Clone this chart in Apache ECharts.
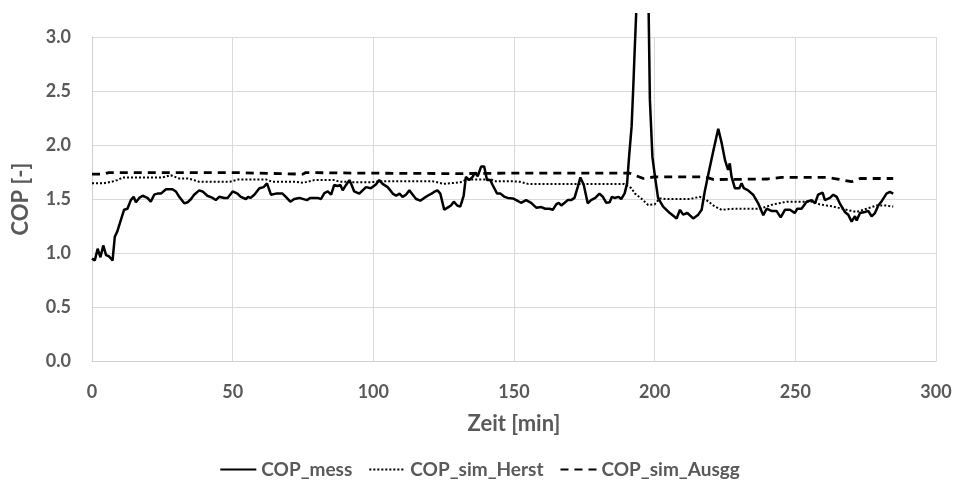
<!DOCTYPE html>
<html>
<head>
<meta charset="utf-8">
<script src="https://cdn.jsdelivr.net/npm/echarts@6/dist/echarts.min.js"></script>
<style>
	html, body { margin: 0; padding: 0; background: #fff; }
	/* chart starts 13px down so the big spike gets cut there like in the original */
	#main { position: absolute; left: 0; top: 13px; width: 959px; height: 479px; }
</style>
</head>
<body>
<div id="main"></div>
<script>
var xTicks = [0, 50, 100, 150, 200, 250, 300];
var yTicks = [0, 0.5, 1.0, 1.5, 2.0, 2.5, 3.0];

// COP_mess
var messTime = [0, 1, 2, 3, 4, 5, 6, 7.3, 8.1, 9, 10.3, 11.4, 12.6, 13.8, 14.8, 15.6, 16.8, 18, 19.7, 20.9,
	22.1, 23.3, 24.5, 26.3, 28.6, 29.8, 31, 32.8, 34, 35.2, 36.3, 38.1, 39.3, 41, 42.9, 44, 45.2, 47, 48.2, 50,
	51.7, 52.9, 54.7, 55.5, 56.3, 57.7, 59.5, 61, 62.2, 63.6, 65.4, 67.7, 68.9, 70.5, 71.9, 73.7, 76.4, 77.6, 80.2, 81.4,
	82.6, 83.8, 85, 86.1, 87.3, 88.3, 89.1, 90.3, 91.5, 92.3, 93.2, 95, 96.2, 97.4, 99.1, 100.9, 102.1, 103.3, 105.1, 106.9,
	108.1, 109.3, 110.4, 111.6, 112.8, 114, 115.2, 116.7, 118.1, 119.3, 120.7, 121.6, 122.8, 123.8, 125.2, 126.4, 127.6, 128.6, 129.8, 130.9,
	132.1, 132.9, 134.1, 135.3, 136.1, 137.1, 138.3, 139.4, 140.4, 141.6, 142.4, 144, 145.2, 146.6, 147.8, 149.6, 150.8, 152.5, 154.3, 156.1,
	157.9, 159.7, 161.1, 162.6, 163.8, 165, 165.9, 166.8, 168, 169.1, 170.3, 171.5, 172.7, 173.6, 174.8, 176.2, 177.4, 178.9, 180.4, 181.6,
	182.8, 184, 184.8, 185.7, 187.2, 188.1, 189.3, 190.2, 190.9, 191.8, 192.4, 192.9, 194.5, 196, 197.5, 198.3, 199.2, 200.1, 201.2, 203,
	205.4, 207.8, 209, 210.1, 211.6, 213.7, 215.5, 216.7, 217.8, 219, 220.8, 222.6, 223.8, 225, 226.1, 226.7, 227.3, 228.5, 230.1, 230.9,
	231.7, 233.2, 235, 236.8, 238.6, 239.8, 241.5, 243.3, 244.8, 246.3, 248.1, 249.8, 250.7, 252.2, 254, 255.8, 257, 258.1, 259.7, 260.5,
	262.3, 263.5, 264.7, 265.8, 267.6, 268.8, 270, 271.2, 271.8, 273, 274.7, 275.9, 277.1, 278.3, 279.5, 280.7, 282.4, 283.6, 284.8];
var messCop = [0.95, 0.93, 1.04, 0.96, 1.07, 0.98, 0.97, 0.93, 1.15, 1.2, 1.31, 1.40, 1.41, 1.49, 1.52, 1.47, 1.51, 1.53, 1.51, 1.475,
	1.54, 1.55, 1.55, 1.59, 1.59, 1.57, 1.52, 1.46, 1.47, 1.50, 1.54, 1.58, 1.57, 1.53, 1.51, 1.49, 1.52, 1.51, 1.51, 1.57,
	1.55, 1.52, 1.50, 1.52, 1.51, 1.54, 1.60, 1.61, 1.645, 1.54, 1.55, 1.55, 1.52, 1.475, 1.50, 1.51, 1.49, 1.51, 1.51, 1.50,
	1.555, 1.57, 1.54, 1.63, 1.62, 1.63, 1.58, 1.63, 1.675, 1.63, 1.57, 1.55, 1.58, 1.61, 1.60, 1.635, 1.675, 1.64, 1.61, 1.55,
	1.53, 1.55, 1.52, 1.54, 1.58, 1.54, 1.50, 1.485, 1.51, 1.53, 1.55, 1.565, 1.58, 1.55, 1.40, 1.42, 1.44, 1.475, 1.44, 1.43,
	1.53, 1.705, 1.675, 1.705, 1.745, 1.71, 1.80, 1.80, 1.675, 1.675, 1.63, 1.55, 1.55, 1.52, 1.51, 1.505, 1.49, 1.465, 1.49, 1.465,
	1.42, 1.425, 1.41, 1.41, 1.40, 1.45, 1.465, 1.44, 1.465, 1.49, 1.49, 1.51, 1.615, 1.70, 1.63, 1.46, 1.49, 1.51, 1.55, 1.52,
	1.465, 1.47, 1.52, 1.51, 1.52, 1.50, 1.55, 1.645, 1.89, 2.17, 2.54, 2.88, 3.9, 4.3, 3.9, 2.42, 1.89, 1.71, 1.51, 1.43,
	1.37, 1.32, 1.40, 1.355, 1.37, 1.32, 1.355, 1.40, 1.57, 1.72, 1.94, 2.15, 2.02, 1.86, 1.77, 1.83, 1.71, 1.60, 1.60, 1.645,
	1.60, 1.58, 1.54, 1.46, 1.35, 1.41, 1.39, 1.39, 1.33, 1.40, 1.40, 1.37, 1.41, 1.41, 1.475, 1.49, 1.46, 1.54, 1.56, 1.49,
	1.51, 1.54, 1.52, 1.46, 1.38, 1.355, 1.29, 1.34, 1.30, 1.37, 1.38, 1.39, 1.34, 1.37, 1.44, 1.48, 1.55, 1.565, 1.55];

// COP_sim_Herst
var herstTime = [0, 4, 7, 9, 11, 18, 25, 28, 31, 34, 36.3, 38, 49, 52, 62, 64, 72, 75, 79, 84,
	86, 88, 91, 92, 99, 101, 102, 121, 125, 129, 131, 133, 142, 143, 149, 152, 155, 171, 174, 189,
	190.5, 191.7, 193, 195.2, 197.7, 200, 201.8, 204, 212.5, 216, 218.4, 221.4, 223.8, 228, 237.4, 239.8, 242.1, 247, 256.4, 258.7,
	263.5, 268.2, 271.8, 275.3, 278.9, 282, 284.8];
var herstCop = [1.645, 1.645, 1.66, 1.675, 1.70, 1.70, 1.70, 1.72, 1.69, 1.69, 1.675, 1.66, 1.66, 1.68, 1.68, 1.66, 1.66, 1.65, 1.675, 1.675,
	1.675, 1.66, 1.66, 1.655, 1.655, 1.66, 1.665, 1.665, 1.64, 1.65, 1.655, 1.68, 1.68, 1.665, 1.665, 1.66, 1.64, 1.64, 1.64, 1.64,
	1.62, 1.60, 1.55, 1.505, 1.445, 1.45, 1.505, 1.50, 1.50, 1.52, 1.49, 1.43, 1.40, 1.41, 1.41, 1.43, 1.45, 1.475, 1.475, 1.45,
	1.43, 1.40, 1.38, 1.41, 1.44, 1.44, 1.43];

// COP_sim_Ausgg
var ausggTime = [0, 4, 6, 30, 50, 75, 76, 93, 130, 150, 180, 191, 193, 196, 200, 218, 221, 240, 245, 261, 265, 270, 273, 284.8];
var ausggCop = [1.73, 1.73, 1.745, 1.745, 1.745, 1.73, 1.745, 1.74, 1.735, 1.74, 1.74, 1.74, 1.72, 1.69, 1.705, 1.705, 1.68, 1.685, 1.70, 1.70, 1.685, 1.66, 1.69, 1.69];

function pairs(t, v) {
	var out = [];
	for (var i = 0; i < t.length; i++) {
		out.push([t[i], v[i]]);
	}
	return out;
}

var font = 'Lato, "Open Sans", sans-serif';
var grey = '#595959';

var myChart = echarts.init(document.getElementById('main'));
var option = {
	animation: false,
	backgroundColor: '#fff',
	grid: {
		left: 92,
		right: 23,
		top: 24,
		bottom: 131
	},
	legend: {
		bottom: 8,
		left: 'center',
		itemWidth: 36,
		itemHeight: 12,
		itemGap: 16,
		itemStyle: { opacity: 0 },
		textStyle: { color: grey, fontFamily: font, fontWeight: 'bold', fontSize: 19 },
		data: ['COP_mess', 'COP_sim_Herst', 'COP_sim_Ausgg']
	},
	xAxis: {
		type: 'value',
		min: xTicks[0],
		max: xTicks[xTicks.length - 1],
		interval: 50,
		name: 'Zeit [min]',
		nameLocation: 'middle',
		nameGap: 52,
		nameTextStyle: { color: grey, fontFamily: font, fontWeight: 'bold', fontSize: 22 },
		axisLine: { lineStyle: { color: '#d0d0d0' } },
		axisTick: { show: false },
		axisLabel: { color: grey, fontFamily: font, fontWeight: 'bold', fontSize: 18, margin: 22 },
		splitLine: { show: true, lineStyle: { color: '#d9d9d9' } }
	},
	yAxis: {
		type: 'value',
		min: yTicks[0],
		max: yTicks[yTicks.length - 1],
		interval: 0.5,
		name: 'COP [-]',
		nameLocation: 'middle',
		nameGap: 60,
		nameTextStyle: { color: grey, fontFamily: font, fontWeight: 'bold', fontSize: 22 },
		axisLine: { show: true, lineStyle: { color: '#d0d0d0' } },
		axisTick: { show: false },
		axisLabel: {
			color: grey, fontFamily: font, fontWeight: 'bold', fontSize: 18, margin: 21,
			formatter: function (v) { return v.toFixed(1); }
		},
		splitLine: { lineStyle: { color: '#d9d9d9' } }
	},
	series: [
		{
			name: 'COP_mess',
			type: 'line',
			clip: false,
			symbol: 'none',
			lineStyle: { color: '#000', width: 2.5 },
			itemStyle: { color: '#000' },
			data: pairs(messTime, messCop)
		}, {
			name: 'COP_sim_Herst',
			type: 'line',
			symbol: 'none',
			lineStyle: { color: '#000', width: 2, type: [2, 2] },
			itemStyle: { color: '#000' },
			data: pairs(herstTime, herstCop)
		}, {
			name: 'COP_sim_Ausgg',
			type: 'line',
			symbol: 'none',
			lineStyle: { color: '#000', width: 2.8, type: [8, 6] },
			itemStyle: { color: '#000' },
			data: pairs(ausggTime, ausggCop)
		}
	]
};
myChart.setOption(option);
</script>
</body>
</html>
